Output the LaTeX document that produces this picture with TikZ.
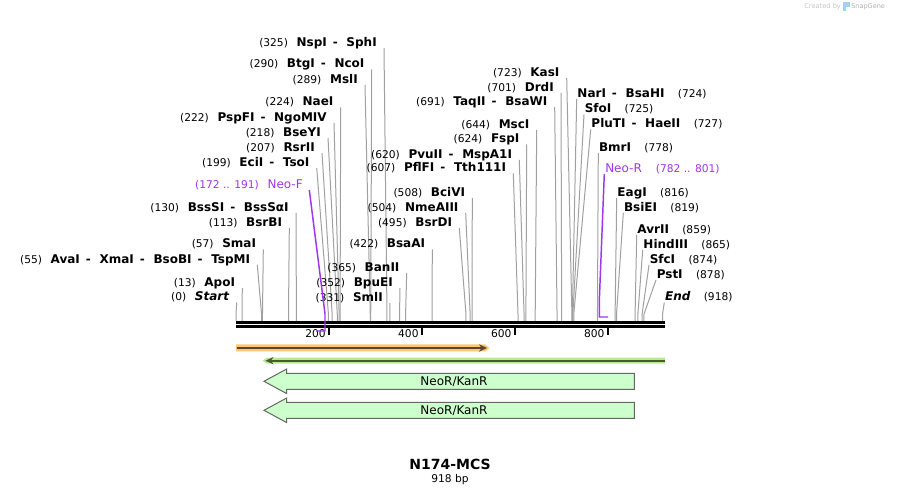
\documentclass[tikz,border=0pt]{standalone}
\usepackage{fontspec}
\setmainfont{DejaVu Sans}
\usetikzlibrary{arrows.meta, positioning}
\definecolor{cutgray}{HTML}{A0A0A0}
\definecolor{primerpurple}{HTML}{A035F0}
\definecolor{orangeband}{HTML}{FFC870}
\definecolor{orangeline}{HTML}{5A4632}
\definecolor{greenband}{HTML}{B4EC8C}
\definecolor{greenline}{HTML}{485A34}
\definecolor{featfill}{HTML}{CCFFCC}
\definecolor{featedge}{HTML}{666666}
\definecolor{logoblue}{HTML}{9FD3F2}
\newcommand{\cutnum}[1]{{\mdseries\fontsize{8}{9}\selectfont(#1)}}
\newcommand{\dsh}{\hspace{4.5pt}-\hspace{6.5pt}}

\begin{document}
\begin{tikzpicture}[
    x=0.75pt, y=-0.75pt,
    cutline/.style={cutgray, line width=0.75pt},
    cutlbl/.style={inner sep=0pt, font=\fontsize{9}{10}\selectfont\bfseries},
    primerlbl/.style={inner sep=0pt, text=primerpurple, font=\fontsize{9}{10}\selectfont},
    primer/.style={primerpurple, line width=1.1pt},
    rulerline/.style={line width=2pt, black},
    ticklbl/.style={inner sep=0pt, font=\fontsize{8}{9}\selectfont},
    featarrow/.style={draw=featedge, fill=featfill, line width=0.75pt},
    featlbl/.style={inner sep=0pt, font=\fontsize{9}{10}\selectfont},
    bandline/.style={line width=1.6pt, -{Stealth[length=6pt, width=5.5pt]}}
]
    \useasboundingbox (0,0) rectangle (901,495);
    \fill[white] (0,0) rectangle (901,495);

    % credit line
    \node[anchor=west, inner sep=0pt, text=gray!45, font=\fontsize{5}{6}\selectfont] (credit) at (804,7) {Created by};
    \fill[logoblue] (843,2.5) rectangle (846,11.5);
    \fill[logoblue] (846,2.5) rectangle (849.5,7);
    \node[anchor=west, inner sep=0pt, text=gray!60, font=\fontsize{4.9}{6}\selectfont] (snapgene) at (851,7) {SnapGene};

    % ruler
    \coordinate (r0) at (236,322.3);
    \coordinate (r1) at (665,322.3);
    \draw[rulerline] (r0) -- (r1);
    \draw[rulerline] ([yshift=-3pt]r0) -- ([yshift=-3pt]r1);
    \foreach \t in {200,400,600,800} {
        \coordinate (k\t) at ({236+0.4646*\t},327.5);
        \draw[line width=1.5pt] (k\t) -- ++(0,7.5);
        \node[ticklbl, anchor=east] (kl\t) at ({236+0.4646*\t-3},333.3) {\t};
    }

    % cut sites, number on the left
    \foreach \pos/\xt/\yt/\nm [count=\i] in {
        325/384/48/{NspI\dsh SphI},
        290/371.7/69.5/{BtgI\dsh NcoI},
        289/365/85/{MslI},
        224/340.7/107.5/{NaeI},
        222/334/123/{PspFI\dsh NgoMIV},
        218/328/138/{BseYI},
        207/322/153/{RsrII},
        199/316.7/168/{EciI\dsh TsoI},
        130/296/213/{BssSI\dsh BssSαI},
        113/289.3/228/{BsrBI},
        57/263.3/249.5/{SmaI},
        55/257.3/265/{AvaI\dsh XmaI\dsh BsoBI\dsh TspMI},
        13/242.3/288/{ApoI},
        0/236.7/302.5/{\textit{Start}},
        620/519.3/160/{PvuII\dsh MspA1I},
        607/513.3/173.5/{PflFI\dsh Tth111I},
        644/536.7/130/{MscI},
        624/526.7/144.5/{FspI},
        691/554.7/107/{TaqII\dsh BsaWI},
        701/561/93/{DrdI},
        723/566.7/78/{KasI},
        508/472.3/198/{BciVI},
        504/465.7/213/{NmeAIII},
        495/459.3/228/{BsrDI},
        422/432.3/249.5/{BsaAI},
        365/406.7/273/{BanII},
        352/400/288/{BpuEI},
        331/390/303/{SmlI}} {
        \coordinate (Lt\i) at (\xt,\yt);
        \coordinate (Ls\i) at ({236+0.4646*\pos},321);
        \node[cutlbl, anchor=base east] (Ll\i) at (\xt-7,\yt-1.5) {\cutnum{\pos}\hspace{6.5pt}\nm};
        \draw[cutline] (Lt\i) -- ([yshift=5pt]Ls\i) -- (Ls\i);
    }

    % cut sites, number on the right
    \foreach \pos/\xt/\yt/\nm [count=\i] in {
        724/576.7/99/{NarI\dsh BsaHI},
        725/584/114.5/{SfoI},
        727/590.7/129.5/{PluTI\dsh HaeII},
        778/598.3/153/{BmrI},
        816/616.7/198/{EagI},
        819/623.3/213/{BsiEI},
        859/636.7/235/{AvrII},
        865/642.7/250/{HindIII},
        874/649/265/{SfcI},
        878/656/280/{PstI},
        918/664.3/302.5/{\textit{End}}} {
        \coordinate (Rt\i) at (\xt,\yt);
        \coordinate (Rs\i) at ({236+0.4646*\pos},321);
        \node[cutlbl, anchor=base west] (Rl\i) at (\xt+0.5,\yt-1.5) {\nm\hspace{10pt}\cutnum{\pos}};
        \draw[cutline] (Rt\i) -- ([yshift=5pt]Rs\i) -- (Rs\i);
    }

    % primers
    \coordinate (nfT) at (309.3,190);
    \coordinate (nfS) at (325,331);
    \node[primerlbl, anchor=base east] (neoF) at (303,188.5) {\cutnum{172 .. 191}\hspace{6.5pt}Neo-F};
    \draw[primer] (nfT) -- ([yshift=13pt]nfS) -- (nfS) -- ++(-9,0);
    \coordinate (nrT) at (604.3,174);
    \coordinate (nrS) at (599.3,317);
    \node[primerlbl, anchor=base west] (neoR) at (605,172.5) {Neo-R\hspace{10.5pt}\cutnum{782 .. 801}};
    \draw[primer] (nrT) -- ([yshift=12pt]nrS) -- (nrS) -- ++(8.7,0);

    % feature bands
    \fill[orangeband] (236,344.5) -- (485,344.5) -- (489.5,348) -- (485,351.5) -- (236,351.5) -- cycle;
    \coordinate (orA) at (236.5,348);
    \coordinate (orB) at (487,348);
    \draw[bandline, orangeline] (orA) -- (orB);
    \fill[greenband] (262.5,360.7) -- (267,357.7) -- (665,357.7) -- (665,363.7) -- (267,363.7) -- cycle;
    \coordinate (grA) at (665,360.7);
    \coordinate (grB) at (265.5,360.7);
    \draw[bandline, greenline] (grA) -- (grB);

    % NeoR/KanR features
    \foreach \yy [count=\i] in {381.3,410.3} {
        \draw[featarrow] (634.3,\yy-8) -- (286.7,\yy-8) -- (286.7,\yy-12.3) -- (264,\yy)
            -- (286.7,\yy+12.3) -- (286.7,\yy+8) -- (634.3,\yy+8) -- cycle;
        \node[featlbl] (neo\i) at (454,\yy) {NeoR/KanR};
    }

    % title
    \node[inner sep=0pt, font=\fontsize{10.5}{12}\selectfont\bfseries] (title) at (450,464.3) {N174-MCS};
    \node[below=3.5pt of title, inner sep=0pt, font=\fontsize{8}{9}\selectfont] (len) {918 bp};
\end{tikzpicture}
\end{document}
